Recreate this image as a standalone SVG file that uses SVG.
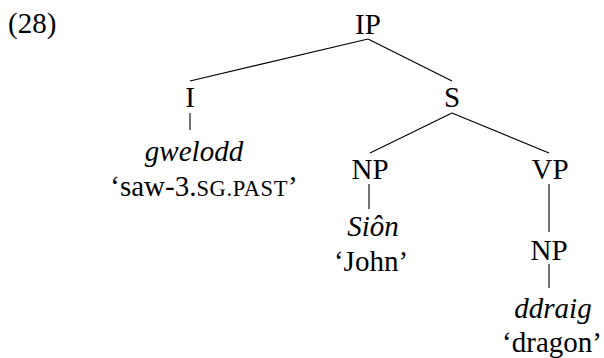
<svg xmlns="http://www.w3.org/2000/svg" width="604" height="358" viewBox="0 0 604 358">
<style>
text{font-family:'Liberation Serif',serif;font-size:29px;fill:#000;text-anchor:middle}
.it{font-style:italic}
.sc{font-size:22.5px;letter-spacing:0.6px}
#edges line{stroke:#000;stroke-width:1.1}
</style>
<rect width="604" height="358" fill="#fff"/>
<text x="8" y="33" style="text-anchor:start">(28)</text>
<g id="edges">
<line x1="368" y1="39" x2="190" y2="81"/>
<line x1="368" y1="39" x2="452" y2="81"/>
<line x1="190" y1="113" x2="190" y2="130"/>
<line x1="452" y1="113" x2="370" y2="153"/>
<line x1="452" y1="113" x2="549" y2="153"/>
<line x1="369" y1="184" x2="369" y2="209"/>
<line x1="549" y1="184" x2="549" y2="232"/>
<line x1="549" y1="264" x2="549" y2="288"/>
</g>
<g id="n-IP"><text x="368" y="34">IP</text></g>
<g id="n-I"><text x="190" y="107">I</text><text class="it" x="194" y="161">gwelodd</text><text x="204" y="196">‘saw-3.<tspan class="sc">SG.PAST</tspan>’</text></g>
<g id="n-S"><text x="452" y="107">S</text></g>
<g id="n-NP1"><text x="370" y="179">NP</text><text class="it" x="373" y="236">Siôn</text><text x="371" y="271">‘John’</text></g>
<g id="n-VP"><text x="550" y="179">VP</text></g>
<g id="n-NP2"><text x="549" y="260">NP</text><text class="it" x="553" y="318">ddraig</text><text x="552" y="352">‘dragon’</text></g>
</svg>
